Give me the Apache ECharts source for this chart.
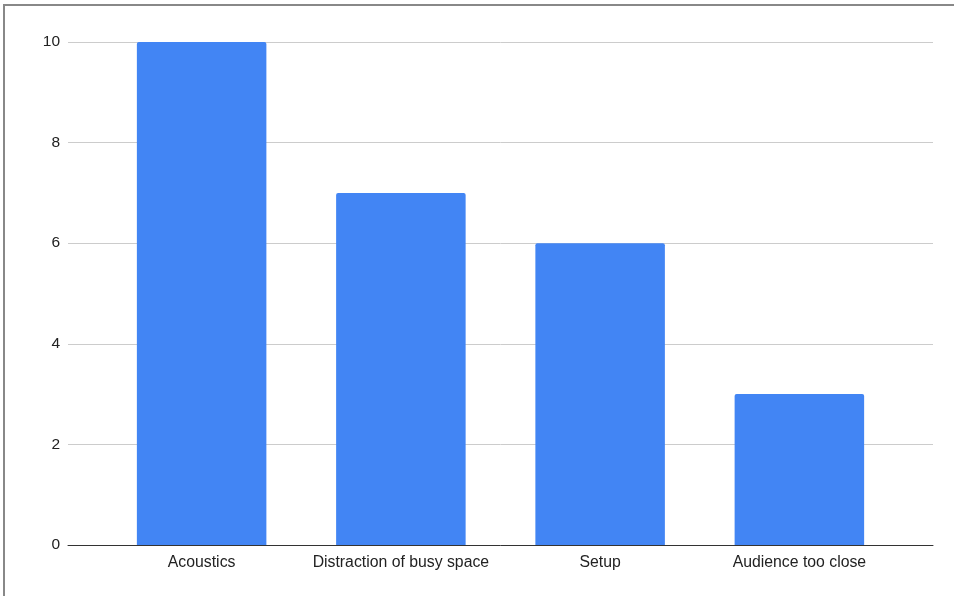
<!DOCTYPE html>
<html>
<head>
<meta charset="utf-8">
<script src="https://cdn.jsdelivr.net/npm/echarts@6/dist/echarts.min.js"></script>
<style>
  html, body { margin: 0; padding: 0; background: #fff; }
  #chart { width: 954px; height: 596px; }
</style>
</head>
<body>
<div id="chart"></div>
<script>
const categories = ['Acoustics', 'Distraction of busy space', 'Setup', 'Audience too close']
const counts = [10, 7, 6, 3]
const yMin = 0
const yMax = 10
const yStep = 2

const chart = echarts.init(document.getElementById('chart'), null, { renderer: 'canvas' })

const font = 'Arial, "Liberation Sans", sans-serif'

const option = {
  animation: false,
  backgroundColor: '#fff',
  graphic: [
    {
      // frame round the picture (only top and left edges visible)
      type: 'rect',
      shape: { x: 4, y: 5, width: 1200, height: 1200 },
      style: { fill: 'none', stroke: '#888', lineWidth: 2 },
      silent: true,
    },
  ],
  grid: [
    // grid 0: gridlines + y labels + base line, full width
    { left: 68, right: 21, top: 42, bottom: 51 },
    // grid 1: the bars, inset like Sheets does
    { left: 102, right: 55, top: 42, bottom: 51 },
  ],
  xAxis: [
    {
      gridIndex: 0,
      type: 'value',
      min: 0,
      max: 1,
      axisLine: { show: true, onZero: false, lineStyle: { color: '#333', width: 1 } },
      axisTick: { show: false },
      axisLabel: { show: false },
      splitLine: { show: false },
    },
    {
      gridIndex: 1,
      type: 'category',
      data: categories,
      axisLine: { show: false },
      axisTick: { show: false },
      axisLabel: { interval: 0, color: '#222', fontSize: 15.8, fontFamily: font, margin: 10 },
      splitLine: { show: false },
    },
  ],
  yAxis: [
    {
      gridIndex: 0,
      type: 'value',
      min: yMin,
      max: yMax,
      interval: yStep,
      axisLine: { show: false },
      axisTick: { show: false },
      axisLabel: { color: '#222', fontSize: 15.5, fontFamily: font, margin: 8 },
      splitLine: { lineStyle: { color: '#ccc', width: 1 } },
    },
    {
      gridIndex: 1,
      type: 'value',
      min: yMin,
      max: yMax,
      interval: yStep,
      show: false,
      splitLine: { show: false },
    },
  ],
  series: [
    {
      type: 'bar',
      xAxisIndex: 1,
      yAxisIndex: 1,
      data: counts,
      barCategoryGap: '35%',
      itemStyle: { color: '#4285f4', borderRadius: [2, 2, 0, 0] },
      z: 1,
    },
  ],
}

chart.setOption(option)
</script>
</body>
</html>
